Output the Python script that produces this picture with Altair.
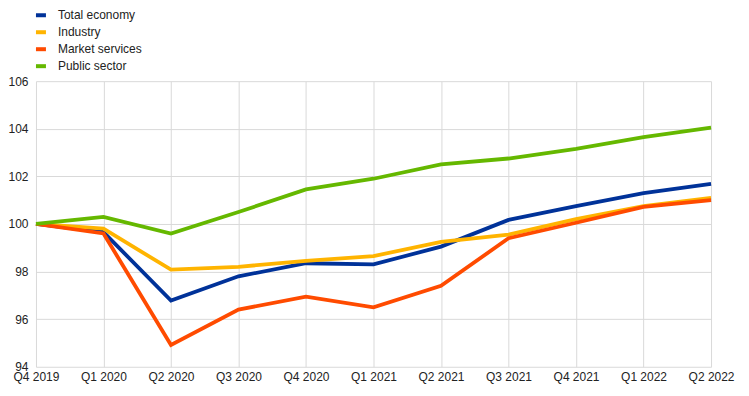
import altair as alt
import pandas as pd

quarters = ["Q4 2019", "Q1 2020", "Q2 2020", "Q3 2020", "Q4 2020", "Q1 2021",
            "Q2 2021", "Q3 2021", "Q4 2021", "Q1 2022", "Q2 2022"]
series_names = ["Total economy", "Industry", "Market services", "Public sector"]
total_economy = [100.0, 99.66, 96.78, 97.8, 98.35, 98.3, 99.05, 100.17, 100.75, 101.3, 101.68]
industry = [100.0, 99.8, 98.08, 98.2, 98.45, 98.65, 99.25, 99.55, 100.2, 100.75, 101.1]
market_services = [100.0, 99.6, 94.92, 96.4, 96.95, 96.5, 97.4, 99.4, 100.05, 100.72, 101.0]
public_sector = [100.0, 100.3, 99.6, 100.5, 101.45, 101.9, 102.5, 102.75, 103.15, 103.65, 104.05]
colors = ["#003299", "#FFB400", "#FF4B00", "#65B800"]
y_ticks = [94, 96, 98, 100, 102, 104, 106]

rows = []
for name, vals in zip(series_names, [total_economy, industry, market_services, public_sector]):
    for q, v in zip(quarters, vals):
        rows.append({"quarter": q, "series": name, "value": v})
df = pd.DataFrame(rows)

font = "Arial, Liberation Sans, sans-serif"

chart = alt.Chart(df).mark_line(strokeWidth=3.8).encode(
    x=alt.X("quarter:N", sort=quarters, scale=alt.Scale(type="point", padding=0),
            axis=alt.Axis(title=None, grid=True, gridColor="#d9d9d9", gridWidth=1,
                          domain=False, ticks=False, labelAngle=0, labelPadding=5,
                          labelFontSize=12, labelColor="#222222", labelFont=font)),
    y=alt.Y("value:Q", scale=alt.Scale(domain=[94, 106], nice=False, zero=False),
            axis=alt.Axis(title=None, values=y_ticks, grid=True, gridColor="#d9d9d9",
                          gridWidth=1, domain=False, ticks=False, labelPadding=8,
                          labelFontSize=12, labelColor="#222222", labelFont=font)),
    color=alt.Color("series:N", sort=series_names,
                    scale=alt.Scale(domain=series_names, range=colors),
                    legend=alt.Legend(title=None, orient="none", legendX=-2, legendY=-73,
                                      symbolType="stroke", symbolStrokeWidth=4,
                                      symbolSize=100, rowPadding=1, labelFontSize=12,
                                      labelFont=font, labelColor="#222222",
                                      labelOffset=10, padding=0)),
    order=alt.Order("series_order:Q"),
).transform_calculate(
    series_order="indexof(['Total economy','Industry','Market services','Public sector'], datum.series)"
).properties(
    width=676, height=286,
    autosize=alt.AutoSizeParams(type="none"),
    padding={"left": 28, "top": 73, "right": 30, "bottom": 19},
).configure_view(stroke=None)

chart.save("out.html", embed_options={"renderer": "svg", "actions": False})
